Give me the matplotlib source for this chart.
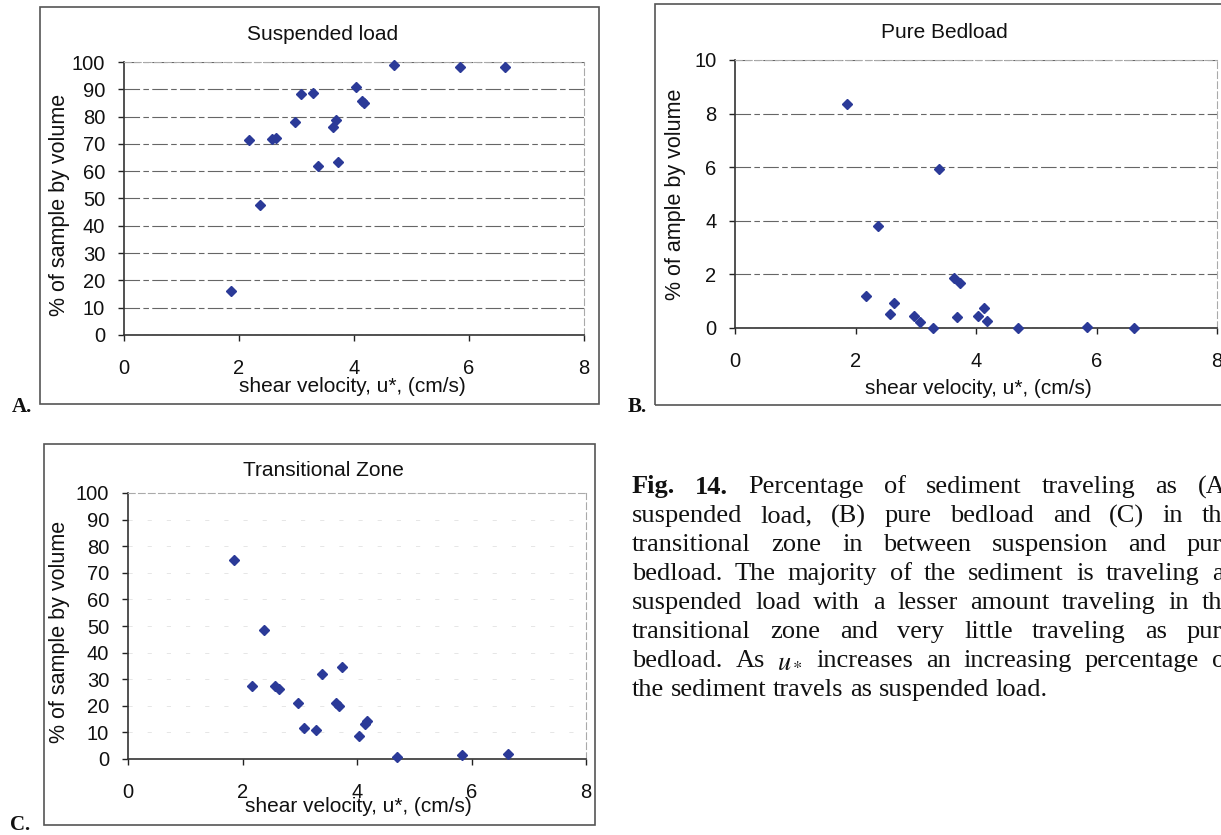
import numpy as np
import matplotlib
matplotlib.use("Agg")
import matplotlib.pyplot as plt
from matplotlib.patches import Rectangle

# shear velocity of each sample (cm/s) and % of sample by volume in each mode
u_star = [1.86, 2.17, 2.37, 2.57, 2.64, 2.97, 3.07, 3.28, 3.38,
          3.64, 3.69, 3.73, 4.04, 4.14, 4.18, 4.69, 5.84, 6.63]
suspended = [16.1, 71.3, 47.5, 71.8, 72.3, 77.9, 88.2, 88.6, 61.8,
             76.2, 78.9, 63.3, 90.7, 85.6, 84.8, 99.0, 98.3, 98.3]
bedload = [8.35, 1.21, 3.80, 0.52, 0.95, 0.46, 0.21, 0.0, 5.92,
           1.85, 0.41, 1.68, 0.46, 0.74, 0.25, 0.0, 0.02, 0.0]
transitional = [75.0, 27.5, 48.5, 27.5, 26.5, 21.1, 11.5, 10.9, 31.9,
                21.1, 20.0, 34.75, 8.5, 13.1, 14.25, 0.6, 1.5, 1.9]

x_ticks = [0, 2, 4, 6, 8]
xlabel = "shear velocity, u*, (cm/s)"

caption = [
    "Fig. 14. Percentage of sediment traveling as (A)",
    "suspended load, (B) pure bedload and (C) in the",
    "transitional zone in between suspension and pure",
    "bedload. The majority of the sediment is traveling as",
    "suspended load with a lesser amount traveling in the",
    "transitional zone and very little traveling as pure",
    "bedload. As $u_*$ increases an increasing percentage of",
    "the sediment travels as suspended load.",
]

plt.rcParams["font.family"] = ["Liberation Sans", "DejaVu Sans"]
plt.rcParams["mathtext.fontset"] = "stix"

W, H = 1221, 835
fig = plt.figure(figsize=(W / 100, H / 100), dpi=100)
fig.patch.set_facecolor("white")


def fx(x):
    return x / W


def fy(y):
    return 1 - y / H


def panel(box, frame, yvals, ymax, ystep, title, ylabel, title_xy, xlab_xy,
          ylab_xy, grid_kw, letter, letter_xy):
    l, t, r, b = box
    ax = fig.add_axes([fx(l), fy(b), (r - l) / W, (b - t) / H])
    ax.set_axisbelow(True)
    ax.yaxis.grid(True, **grid_kw)
    ax.plot(u_star, yvals, ls="none", marker="D", ms=4.8, color="#2b3a98",
            mec="#2b3a98", clip_on=False, zorder=3)
    ax.set_xlim(0, 8)
    ax.set_ylim(0, ymax)
    ax.set_xticks(x_ticks)
    ax.set_yticks(np.arange(0, ymax + ystep / 2, ystep))
    ax.tick_params(direction="out", length=4.5, width=1, color="#222",
                   labelsize=14.5, labelcolor="#111")
    ax.tick_params(axis="x", pad=13)
    ax.tick_params(axis="y", pad=9)
    for s in ["left", "bottom"]:
        ax.spines[s].set_color("#333")
        ax.spines[s].set_linewidth(1.2)
    for s in ["top", "right"]:
        ax.spines[s].set_color("#aaaaaa")
        ax.spines[s].set_linewidth(0.8)
        ax.spines[s].set_linestyle((0, (6, 3)))

    fig.text(fx(title_xy[0]), fy(title_xy[1]), title, ha="center",
             va="center", fontsize=15, color="#111")
    fig.text(fx(xlab_xy[0]), fy(xlab_xy[1]), xlabel, ha="center",
             va="center", fontsize=15, color="#111")
    fig.text(fx(ylab_xy[0]), fy(ylab_xy[1]), ylabel, ha="center",
             va="center", rotation=90, fontsize=15.5, color="#111")

    x0, y0, x1, y1 = frame
    fig.add_artist(Rectangle((fx(x0), fy(y1)), (x1 - x0) / W, (y1 - y0) / H,
                             transform=fig.transFigure, fill=False,
                             ec="#555", lw=1.2))
    fig.text(fx(letter_xy[0]), fy(letter_xy[1]), letter, ha="center",
             va="center", fontsize=15, fontweight="bold",
             family="Liberation Serif", color="#111")
    return ax


dark_grid = dict(color="#666666", lw=0.8, ls=(0, (14, 3, 5, 3)))
faint_grid = dict(color="#e2e2e2", lw=0.6, ls=(0, (5, 18)))

panel((124, 62, 584, 335), (40, 7, 599, 404), suspended, 100, 10,
      "Suspended load", "% of sample by volume",
      (323, 35), (352, 386), (60, 205), dark_grid, "A.", (22, 407))
panel((735, 60, 1217, 328), (655, 4, 1245, 405), bedload, 10, 2,
      "Pure Bedload", "% of ample by volume",
      (944, 32), (978, 388), (676, 194), dark_grid, "B.", (637, 407))
panel((128, 493, 586, 759), (44, 444, 595, 825), transitional, 100, 10,
      "Transitional Zone", "% of sample by volume",
      (323, 470), (358, 807), (60, 632), faint_grid, "C.", (20, 825))

# justified caption, words spread between left and right edges
renderer = fig.canvas.get_renderer()
left, right = 632, 1234
fs = 19
y = 487
for i, line in enumerate(caption):
    words = line.split(" ")
    texts = []
    for j, w in enumerate(words):
        bold = i == 0 and j < 2
        t = fig.text(0, fy(y), w, ha="left", va="center", fontsize=fs,
                     family="Liberation Serif",
                     fontweight="bold" if bold else "normal", color="#111")
        texts.append(t)
    widths = [t.get_window_extent(renderer).width for t in texts]
    if i < len(caption) - 1:
        gap = (right - left - sum(widths)) / (len(words) - 1)
    else:
        gap = 0.25 * fs * 100 / 72
    x = left
    for t, wd in zip(texts, widths):
        t.set_x(fx(x))
        x += wd + gap
    y += 29

fig.savefig("out.png", dpi=100, facecolor="white")
